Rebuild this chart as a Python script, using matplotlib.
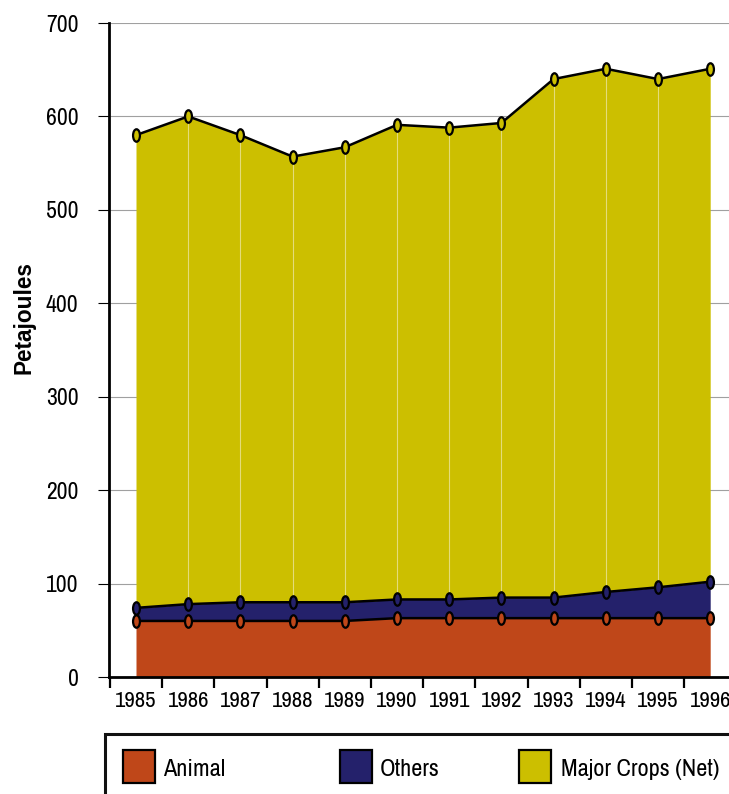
import numpy as np
import matplotlib
matplotlib.use("Agg")
import matplotlib.pyplot as plt
from matplotlib.path import Path
from matplotlib.patches import Rectangle
from matplotlib import font_manager as fm
from matplotlib.textpath import TextPath

years = [1985, 1986, 1987, 1988, 1989, 1990, 1991, 1992, 1993, 1994, 1995, 1996]
animal = [60, 60, 60, 60, 60, 63, 63, 63, 63, 63, 63, 63]
others = [14, 18, 20, 20, 20, 20, 20, 22, 22, 28, 33, 39]
major_crops = [506, 522, 500, 477, 487, 508, 505, 508, 555, 560, 544, 549]
series_names = ["Animal", "Others", "Major Crops (Net)"]
colors = ["#BF4719", "#24216B", "#CCBF00"]
yticks = [0, 100, 200, 300, 400, 500, 600, 700]


def pick_font():
    fl = fm.fontManager.ttflist
    for f in fl:
        if 'Narrow' in f.name:
            return f.name, 'normal'
    for f in fl:
        if 'Condensed' in f.name:
            return f.name, 'normal'
    for f in fl:
        if f.name in ('Noto Sans', 'Open Sans', 'Roboto', 'Inter') and \
                str(f.stretch) in ('condensed', 'semi-condensed', 'extra-condensed'):
            return f.name, str(f.stretch)
    return 'Liberation Sans', 'normal'


FAM, STRETCH = pick_font()
plt.rcParams['font.family'] = [FAM, 'DejaVu Sans']
plt.rcParams['font.stretch'] = STRETCH

has_bold = any(f.name == FAM and (f.weight in ('bold', 'heavy', 'black') or
                                  (isinstance(f.weight, int) and f.weight >= 600))
               for f in fm.fontManager.ttflist)
LAB_FAM = [FAM, 'DejaVu Sans'] if has_bold else ['Liberation Sans', 'DejaVu Sans']
LAB_STRETCH = STRETCH if has_bold else 'normal'


def fit_size(s, target_w, target_cap, fam, stretch, weight='normal', k=0.65):
    fp = fm.FontProperties(family=fam, stretch=stretch, weight=weight)
    w = TextPath((0, 0), s, size=100, prop=fp).get_extents().width / 100
    cap = TextPath((0, 0), "1", size=100, prop=fp).get_extents().height / 100
    sw = target_w * 72 / (100 * w)
    sh = target_cap * 72 / (100 * cap)
    return float(sw ** (1 - k) * sh ** k)


base = [FAM, 'DejaVu Sans']
tick_fs = fit_size("1985", 42, 15.5, base, STRETCH, k=0.85)
ytick_fs = fit_size("700", 34, 16, base, STRETCH, k=0.9)
leg_fs = fit_size("Major Crops (Net)", 151, 17, base, STRETCH, k=0.6)
lab_fs = fit_size("Petajoules", 101, 17, LAB_FAM, LAB_STRETCH, weight='bold', k=0.5)

W, H = 729, 794
fig = plt.figure(figsize=(W / 100, H / 100), dpi=100)
ax = fig.add_axes([109 / W, 1 - 677 / H, (W - 109) / W, (677 - 23) / H])

x = np.array(years, dtype=float)
layers = [np.array(animal), np.array(others), np.array(major_crops)]
cum = np.cumsum(layers, axis=0)
bottoms = [np.zeros_like(cum[0])] + [cum[i] for i in range(2)]

circ = Path.unit_circle()
ell = Path(circ.vertices * np.array([0.55, 1.0]), circ.codes)

for i in range(3):
    ax.fill_between(x, bottoms[i], cum[i], color=colors[i], lw=0, zorder=2)
ax.vlines(x[1:-1], cum[1][1:-1], cum[2][1:-1], color='#e4dc7a', lw=0.8, zorder=2.5)
for i in range(3):
    ax.plot(x, cum[i], color='black', lw=1.8, zorder=3, marker=ell, ms=9,
            mfc=colors[i], mec='black', mew=1.6)

ax.set_xlim(1985 - 27 / 52.2, 1985 + 593 / 52.2)
ax.set_ylim(0, 700)
ax.set_yticks(yticks)
ax.set_yticklabels([str(v) for v in yticks], fontsize=ytick_fs)
ax.set_xticks(years)
ax.set_xticklabels([str(y) for y in years], fontsize=tick_fs)
ax.set_xticks(np.arange(1984.5, 1996, 1.0), minor=True)
ax.tick_params(axis='x', which='major', length=0, pad=10)
ax.tick_params(axis='x', which='minor', length=8, width=1.6, color='black')
ax.tick_params(axis='y', which='major', length=8, width=0.8, color='black', pad=14)

ax.set_axisbelow(True)
ax.yaxis.grid(True, color='#a0a0a0', lw=0.8)
for s in ['top', 'right']:
    ax.spines[s].set_visible(False)
for s in ['left', 'bottom']:
    ax.spines[s].set_linewidth(2.0)
    ax.spines[s].set_zorder(4)

fig.text(24 / W, 1 - 318 / H, "Petajoules", rotation=90, fontsize=lab_fs,
         fontweight='bold', family=LAB_FAM, stretch=LAB_STRETCH,
         ha='center', va='center')

# legend box
fig.patches.append(Rectangle((105 / W, -0.05), 1.0, 1 - 734 / H + 0.05,
                             transform=fig.transFigure, fill=False,
                             edgecolor='#111111', lw=2.2))
patch_x = [123, 340, 519]
text_x = [163, 380, 561]
for px, tx, name, c in zip(patch_x, text_x, series_names, colors):
    fig.patches.append(Rectangle((px / W, 1 - 783 / H), 32 / W, 33 / H,
                                 transform=fig.transFigure, facecolor=c,
                                 edgecolor='black', lw=1.6))
    fig.text(tx / W, 1 - 770 / H, name, fontsize=leg_fs, ha='left', va='center')

fig.savefig("out.png", dpi=100)
